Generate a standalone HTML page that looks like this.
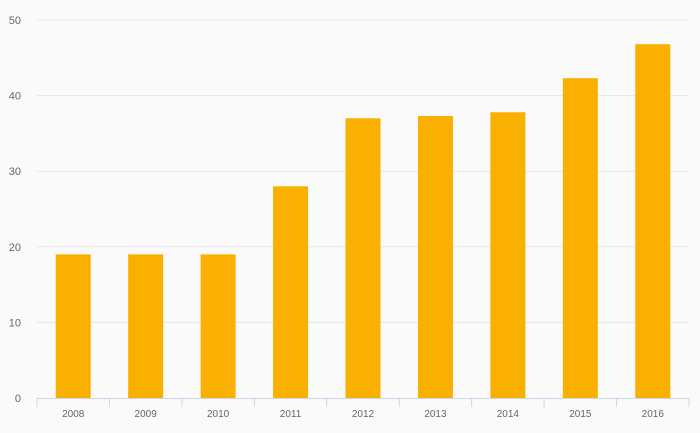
<!DOCTYPE html>
<html><head><meta charset="utf-8"><style>
html,body{margin:0;padding:0;background:#fafafa;}
svg{display:block;font-family:"Liberation Sans",sans-serif;}
</style></head><body>
<svg id="chart" width="700" height="433" viewBox="0 0 700 433"></svg>
<script>
const categories = ["2008","2009","2010","2011","2012","2013","2014","2015","2016"];
const values = [19, 19, 19, 28, 37, 37.3, 37.8, 42.3, 46.8];
const yTicks = [0, 10, 20, 30, 40, 50];

const svgEl = document.getElementById('chart');
const NS = 'http://www.w3.org/2000/svg';
const plotLeft = 37, plotRight = 689, plotTop = 20, plotBottom = 398, yMax = 50;
const band = (plotRight - plotLeft) / categories.length;
const barW = 35;
const yScale = v => plotBottom - v / yMax * (plotBottom - plotTop);
const xScale = i => plotLeft + band * i;
function mk(tag, attrs) { const e = document.createElementNS(NS, tag); for (const k in attrs) e.setAttribute(k, attrs[k]); svgEl.appendChild(e); return e; }

yTicks.forEach(t => {
  if (t > 0) {
    const g = mk('line', {x1: plotLeft, x2: plotRight, y1: yScale(t), y2: yScale(t), stroke: '#e6e6e6', 'stroke-width': 1});
    
    
  }
  const l = mk('text', {x: 21, y: yScale(t) + 4, 'text-anchor': 'end', 'font-size': 11, fill: '#666'});
  l.textContent = t;
  
  
});

categories.forEach((c, i) => {
  const b = mk('rect', {x: xScale(i) + (band - barW) / 2, y: yScale(values[i]), width: barW, height: plotBottom - yScale(values[i]), fill: '#fab000'});
  
  
  const l = mk('text', {x: xScale(i) + band / 2, y: 417, 'text-anchor': 'middle', 'font-size': 10, fill: '#666'});
  l.textContent = c;
  
  
});

for (let i = 0; i <= categories.length; i++) {
  const t = mk('line', {x1: xScale(i), x2: xScale(i), y1: plotBottom, y2: plotBottom + 9, stroke: '#ccd6eb', 'stroke-width': 1});
  
  
}
const ax = mk('line', {x1: plotLeft, x2: plotRight, y1: plotBottom + 0.5, y2: plotBottom + 0.5, stroke: '#ccd6eb', 'stroke-width': 1});


</script>
</body></html>
